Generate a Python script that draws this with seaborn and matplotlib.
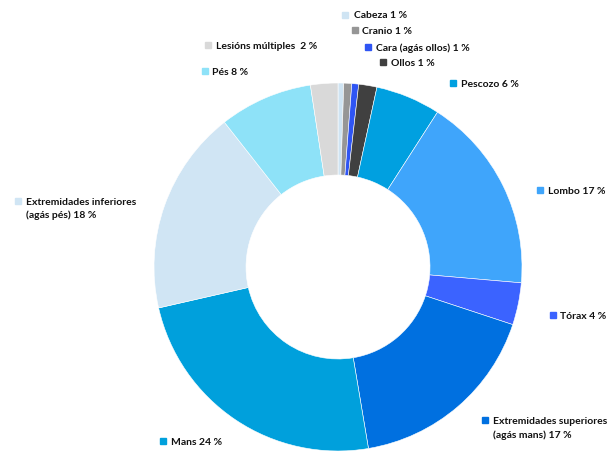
import matplotlib
matplotlib.use('Agg')
import matplotlib.pyplot as plt
from matplotlib.lines import Line2D
import seaborn as sns

# data (clockwise from 12 o'clock)
parts = ['Cabeza', 'Cranio', 'Cara (agás ollos)', 'Ollos', 'Pescozo', 'Lombo', 'Tórax',
         'Extremidades superiores\n(agás mans)', 'Mans', 'Extremidades inferiores\n(agás pés)',
         'Pés', 'Lesións múltiples ']
shares = [0.5, 0.7, 0.6, 1.6, 5.7, 17.3, 3.7, 17.3, 24.1, 18.0, 8.2, 2.4]
pct_shown = [1, 1, 1, 1, 6, 17, 4, 17, 24, 18, 8, 2]
colors = ['#cfe4f3', '#969696', '#2f55f4', '#404040', '#00a0e0', '#3fa5fb', '#3b63ff',
          '#0070e0', '#00a0dc', '#d0e5f4', '#8ee2f8', '#d9d9d9']

# label marker positions in pixels (x, y from top)
label_pos = [(345.5, 14.5), (354.5, 30), (368, 47), (383, 62), (453, 83), (539.5, 189.5),
             (552.5, 315), (484.5, 420), (163, 441), (17.5, 201), (204.5, 71), (208, 45)]

W, H = 611, 454
sns.set_theme(style='white')
plt.rcParams['font.family'] = ['Lato', 'DejaVu Sans']

fig = plt.figure(figsize=(W / 100, H / 100), dpi=100)
cx, cy, r = 338, 267, 184
ax = fig.add_axes([(cx - r) / W, (H - cy - r) / H, 2 * r / W, 2 * r / H])
ax.pie(shares, colors=colors, startangle=90, counterclock=False, radius=1,
       wedgeprops=dict(width=0.5, edgecolor='white', linewidth=0.4))
ax.set_xlim(-1, 1)
ax.set_ylim(-1, 1)
ax.axis('off')

# labels with little square keys
for part, pct, col, (mx, my) in zip(parts, pct_shown, colors, label_pos):
    fig.add_artist(Line2D([mx / W], [1 - my / H], marker='s', markersize=4.5, color=col,
                          linestyle='', transform=fig.transFigure))
    lines = (part + ' ' + str(pct) + ' %').split('\n')
    for i, line in enumerate(lines):
        fig.text((mx + 8) / W, 1 - (my + 4 + i * 13.5) / H, line, fontsize=7.5,
                 fontweight='bold', color='#111111', va='baseline', ha='left')

fig.savefig('out.png', dpi=100)
